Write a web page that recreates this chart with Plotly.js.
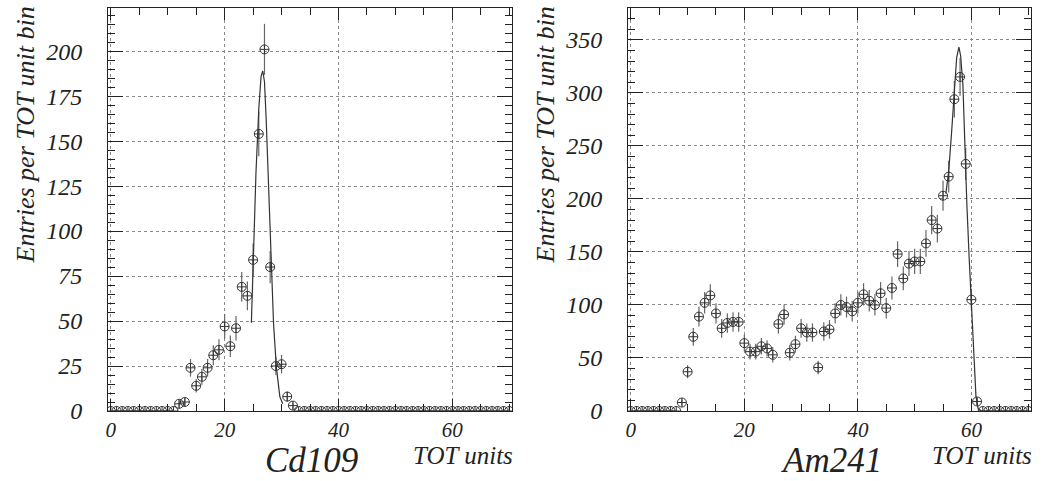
<!DOCTYPE html>
<html>
<head>
<meta charset="utf-8">
<script src="https://cdn.plot.ly/plotly-3.0.1.min.js"></script>
<style>html,body{margin:0;padding:0;background:#fff;}#chart{width:1049px;height:481px;}</style>
</head>
<body>
<div id="chart"></div>
<script>
// ---- data ----
const bins = Array.from({length: 71}, (_, i) => i); // TOT unit bins 0..70

const cd109Counts = [
  0,0,0,0,0,0,0,0,0,0,
  0,0,4,5,24,14,19,24,31,34,
  47,36,46,69,64,84,154,201,80,25,
  26,8,3,0,0,0,0,0,0,0,
  0,0,0,0,0,0,0,0,0,0,
  0,0,0,0,0,0,0,0,0,0,
  0,0,0,0,0,0,0,0,0,0,
  0
];
const cd109FitX = [24.7, 25.0, 25.5, 26.0, 26.4, 26.7, 27.0, 27.3, 27.7, 28.2, 28.6, 29.1, 29.4, 29.7, 30.2];
const cd109FitY = [49, 84, 132, 168, 186, 189, 183, 162, 125, 77, 48, 24, 14, 8, 4];

const am241Counts = [
  0,0,0,0,0,0,0,0,0,8,
  37,70,89,102,109,92,78,83,84,84,
  64,56,56,61,59,53,82,91,55,63,
  78,74,74,41,75,77,92,100,98,94,
  102,110,104,100,111,97,116,148,125,139,
  141,141,158,180,172,203,221,294,315,233,
  105,9,0,0,0,0,0,0,0,0,
  0
];
const am241FitX = [55.5, 56.0, 56.5, 57.0, 57.4, 57.8, 58.1, 58.5, 58.8, 59.2, 59.6, 60.0, 60.4, 60.8, 61.2, 61.8];
const am241FitY = [205, 226, 262, 305, 333, 343, 335, 308, 255, 195, 145, 104, 55, 14, 2, 0];

const xTickVals = [0, 20, 40, 60];
const xTickText = ['0', '20', '40', '60'];
const cdYTicks = [0, 25, 50, 75, 100, 125, 150, 175, 200];
const amYTicks = [0, 50, 100, 150, 200, 250, 300, 350];

const yTitle = 'Entries per TOT unit bin';
const xTitle = 'TOT units';
const cdLabel = 'Cd109';
const amLabel = 'Am241';

// ---- styling ----
const FONT = 'Liberation Serif, Times New Roman, serif';
const ink = '#222';

function pointsTrace(counts, xa, ya) {
  return {
    type: 'scatter', mode: 'markers', x: bins, y: counts, xaxis: xa, yaxis: ya,
    marker: {symbol: 'circle-cross-open', size: 9, color: '#333', line: {width: 1, color: '#333'}},
    error_y: {type: 'sqrt', visible: true, width: 0, thickness: 1.2, color: '#666'},
    cliponaxis: true, hoverinfo: 'x+y', showlegend: false
  };
}
function fitTrace(fx, fy, xa, ya) {
  return {
    type: 'scatter', mode: 'lines', x: fx, y: fy, xaxis: xa, yaxis: ya,
    line: {color: '#333', width: 1.2}, showlegend: false, hoverinfo: 'skip'
  };
}

const W = 1049, H = 481;
const px = v => v / W, py = v => 1 - v / H;

function xAxis(d0, d1, anchor) {
  return {
    domain: [px(d0), px(d1)], anchor: anchor, range: [-0.5, 70.5],
    tickmode: 'array', tickvals: xTickVals, ticktext: xTickText,
    ticks: 'inside', ticklen: 12, tickwidth: 1, tickcolor: ink,
    showline: true, linecolor: ink, linewidth: 1, mirror: 'allticks',
    showgrid: true, gridcolor: '#8a8a8a', griddash: '3px,3px', gridwidth: 1,
    zeroline: false, ticklabelstandoff: 0,
    tickfont: {family: FONT, size: 21, color: ink, style: 'italic'},
    minor: {dtick: 5, tick0: 0, ticks: 'inside', ticklen: 7, tickcolor: ink, tickwidth: 1, showgrid: false}
  };
}
function yAxis(range, tickvals, minorStep, anchor) {
  return {
    domain: [py(411), py(8)], anchor: anchor, range: range,
    tickmode: 'array', tickvals: tickvals, ticktext: tickvals.map(String),
    ticks: 'inside', ticklen: 15, tickwidth: 1, tickcolor: ink,
    showline: true, linecolor: ink, linewidth: 1, mirror: 'allticks',
    showgrid: true, gridcolor: '#8a8a8a', griddash: '3px,3px', gridwidth: 1,
    zeroline: false, ticklabelstandoff: 20,
    tickfont: {family: FONT, size: 24, color: ink, style: 'italic'},
    minor: {dtick: minorStep, tick0: 0, ticks: 'inside', ticklen: 7, tickcolor: ink, tickwidth: 1, showgrid: false}
  };
}

const data = [
  pointsTrace(cd109Counts, 'x', 'y'),
  fitTrace(cd109FitX, cd109FitY, 'x', 'y'),
  pointsTrace(am241Counts, 'x2', 'y2'),
  fitTrace(am241FitX, am241FitY, 'x2', 'y2')
];

function ann(text, x, y, size, opts) {
  return Object.assign({
    text: text, xref: 'paper', yref: 'paper', x: px(x), y: py(y), showarrow: false,
    borderpad: 0, font: {family: FONT, size: size, color: ink, style: 'italic'}
  }, opts || {});
}

const layout = {
  width: W, height: H,
  margin: {l: 0, r: 0, t: 0, b: 0},
  paper_bgcolor: '#fff', plot_bgcolor: '#fff',
  showlegend: false,
  xaxis: xAxis(108, 512, 'y'),
  yaxis: yAxis([0, 224], cdYTicks, 5, 'x'),
  xaxis2: xAxis(628, 1031, 'y2'),
  yaxis2: yAxis([0, 380], amYTicks, 10, 'x2'),
  annotations: [
    ann(yTitle, 25, 6, 26, {textangle: -90, xanchor: 'center', yanchor: 'top'}),
    ann(yTitle, 545, 6, 26, {textangle: -90, xanchor: 'center', yanchor: 'top'}),
    ann(cdLabel, 311, 481, 35, {xanchor: 'center', yanchor: 'bottom'}),
    ann(amLabel, 831, 481, 35, {xanchor: 'center', yanchor: 'bottom'}),
    ann(xTitle, 514, 470, 25, {xanchor: 'right', yanchor: 'bottom'}),
    ann(xTitle, 1033, 470, 25, {xanchor: 'right', yanchor: 'bottom'})
  ]
};

Plotly.newPlot('chart', data, layout, {staticPlot: true, displayModeBar: false});
</script>
</body>
</html>
